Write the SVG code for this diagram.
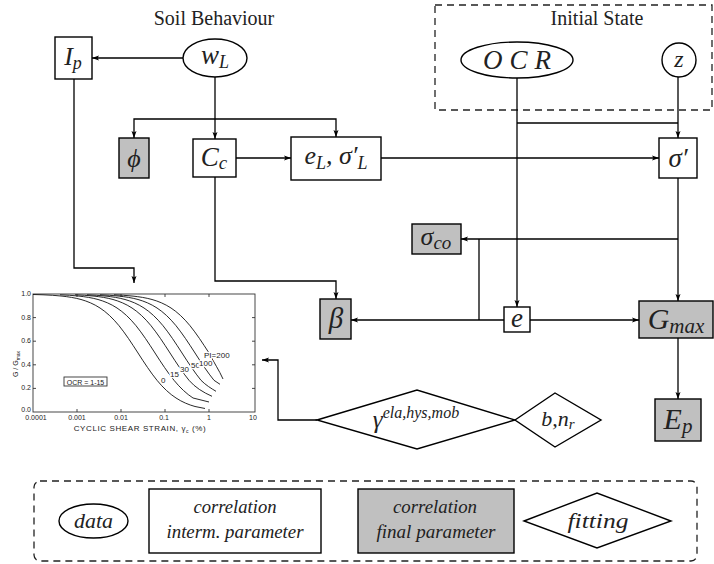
<svg xmlns="http://www.w3.org/2000/svg" width="714" height="564" viewBox="0 0 714 564">
<defs>
<style>
.box{fill:#fff;stroke:#000;stroke-width:1.4}
.gbox{fill:#c0c0c0;stroke:#000;stroke-width:1.4}
.c{fill:none;stroke:#000;stroke-width:1.3}
.dash{fill:none;stroke:#222;stroke-width:1.3;stroke-dasharray:7,5}
.m{font-style:italic;fill:#222;text-anchor:middle}
.t{font-size:20px;fill:#222;text-anchor:middle}
.sm{font-size:7px;fill:#222}
.lab{font-size:8px;fill:#222;stroke:#fff;stroke-width:2.5;paint-order:stroke}
.cur{fill:none;stroke:#111;stroke-width:0.9}
.fr{fill:none;stroke:#333;stroke-width:0.9}
</style>
<marker id="ah" markerWidth="8" markerHeight="6" refX="7" refY="3" orient="auto" markerUnits="userSpaceOnUse"><path d="M0,0.5 L7,3 L0,5.5 L1.5,3 z" fill="#000"/></marker>
</defs>

<g font-family="Liberation Serif, Times New Roman, serif">
<text class="t" x="214" y="25">Soil Behaviour</text>

<g id="initial-state">
<rect class="dash" x="435" y="5" width="277" height="105"/>
<text class="t" x="597" y="25">Initial State</text>
</g>

<g id="connectors">
<path class="c" d="M183,58 H92" marker-end="url(#ah)"/>
<path class="c" d="M215,77 V139" marker-end="url(#ah)"/>
<path class="c" d="M215,119 H134 V138" marker-end="url(#ah)"/>
<path class="c" d="M215,119 H336 V137" marker-end="url(#ah)"/>
<path class="c" d="M236,158 H291" marker-end="url(#ah)"/>
<path class="c" d="M381,158 H659" marker-end="url(#ah)"/>
<path class="c" d="M517,78 V307" marker-end="url(#ah)"/>
<path class="c" d="M517,123 H678"/>
<path class="c" d="M678,77 V138" marker-end="url(#ah)"/>
<path class="c" d="M678,178 V301" marker-end="url(#ah)"/>
<path class="c" d="M678,239 H461" marker-end="url(#ah)"/>
<path class="c" d="M479,239 V320"/>
<path class="c" d="M504,320 H351" marker-end="url(#ah)"/>
<path class="c" d="M530,320 H639" marker-end="url(#ah)"/>
<path class="c" d="M678,338 V399" marker-end="url(#ah)"/>
<path class="c" d="M215,177 V281 H336 V299" marker-end="url(#ah)"/>
<path class="c" d="M74,79 V268 H134 V283" marker-end="url(#ah)"/>
<path class="c" d="M317,420 H278 V360 H262" marker-end="url(#ah)"/>
</g>

<g id="Ip">
<rect class="box" x="55" y="37" width="37" height="42"/>
<text class="m" x="73" y="65" font-size="26">I<tspan font-size="18" dy="4">p</tspan></text>
</g>

<g id="wL">
<ellipse class="box" cx="215" cy="58" rx="32" ry="19"/>
<text class="m" x="215" y="64" font-size="27">w<tspan font-size="18" dy="4">L</tspan></text>
</g>

<g id="phi">
<rect class="gbox" x="119" y="138" width="30" height="40"/>
<text class="m" x="134" y="167" font-size="26">ϕ</text>
</g>

<g id="Cc">
<rect class="box" x="193" y="139" width="43" height="38"/>
<text class="m" x="214" y="166" font-size="27">C<tspan font-size="19" dy="3">c</tspan></text>
</g>

<g id="eL">
<rect class="box" x="291" y="137" width="90" height="43"/>
<text class="m" x="336" y="164" font-size="26">e<tspan font-size="18" dy="5">L</tspan><tspan dy="-5">, σ′</tspan><tspan font-size="18" dy="5">L</tspan></text>
</g>

<g id="OCR">
<ellipse class="box" cx="517" cy="60" rx="56" ry="18"/>
<text class="m" x="517" y="69" font-size="27" textLength="68" lengthAdjust="spacing">OCR</text>
</g>

<g id="z">
<circle class="box" cx="679" cy="60" r="17"/>
<text class="m" x="679" y="67" font-size="24">z</text>
</g>

<g id="sigma-prime">
<rect class="box" x="659" y="138" width="38" height="40"/>
<text class="m" x="678" y="167" font-size="27">σ′</text>
</g>

<g id="sigma-co">
<rect class="gbox" x="412" y="224" width="49" height="30"/>
<text class="m" x="436" y="245" font-size="26">σ<tspan font-size="19" dy="4">co</tspan></text>
</g>

<g id="beta">
<rect class="gbox" x="320" y="299" width="31" height="40"/>
<text class="m" x="336" y="328" font-size="29">β</text>
</g>

<g id="e">
<rect class="box" x="504" y="307" width="26" height="25"/>
<text class="m" x="517" y="327" font-size="27">e</text>
</g>

<g id="Gmax">
<rect class="gbox" x="639" y="301" width="74" height="37"/>
<text class="m" x="676" y="329" font-size="30">G<tspan font-size="21" dy="4">max</tspan></text>
</g>

<g id="Ep">
<rect class="gbox" x="655" y="399" width="46" height="42"/>
<text class="m" x="678" y="429" font-size="30">E<tspan font-size="21" dy="4">p</tspan></text>
</g>

<g id="gamma">
<polygon class="box" points="317,420 417,390 515,420 417,449"/>
<text class="m" x="416" y="428" font-size="25">γ<tspan font-size="16" dy="-10">ela,hys,mob</tspan></text>
</g>

<g id="bnr">
<polygon class="box" points="515,420 555,393 601,420 555,447"/>
<text class="m" x="558" y="426" font-size="22">b,n<tspan font-size="15" dy="3">r</tspan></text>
</g>

<g id="legend">
<rect class="dash" x="34" y="481" width="663" height="80" rx="6"/>
<g id="legend-data">
<ellipse class="box" cx="93.5" cy="521" rx="34.5" ry="17"/>
<text class="m" x="93.5" y="528" font-size="21" textLength="39" lengthAdjust="spacingAndGlyphs">data</text>
</g>
<g id="legend-interm">
<rect class="box" x="149" y="489" width="172" height="64"/>
<text class="m" x="235" y="513" font-size="18" textLength="83" lengthAdjust="spacingAndGlyphs">correlation</text>
<text class="m" x="235" y="538" font-size="18" textLength="137" lengthAdjust="spacingAndGlyphs">interm. parameter</text>
</g>
<g id="legend-final">
<rect class="gbox" x="358" y="489" width="156" height="64"/>
<text class="m" x="435" y="513" font-size="18" textLength="84" lengthAdjust="spacingAndGlyphs">correlation</text>
<text class="m" x="436" y="538" font-size="18" textLength="119" lengthAdjust="spacingAndGlyphs">final parameter</text>
</g>
<g id="legend-fitting">
<polygon class="box" points="524,521 597,493 671,521 597,548"/>
<text class="m" x="598" y="528" font-size="21" textLength="61" lengthAdjust="spacingAndGlyphs">fitting</text>
</g>
</g>
</g>

<g id="chart" font-family="Liberation Sans, Arial, sans-serif">
<rect class="fr" x="33" y="294" width="222" height="118"/>
<path class="fr" d="M33,317.6 h3 M33,341.2 h3 M33,364.8 h3 M33,388.4 h3 M255,317.6 h-3 M255,341.2 h-3 M255,364.8 h-3 M255,388.4 h-3 M77,412 v-3 M121,412 v-3 M165,412 v-3 M209,412 v-3 M77,294 v3 M121,294 v3 M165,294 v3 M209,294 v3"/>
<g class="sm" text-anchor="end">
<text x="31" y="296">1.0</text>
<text x="31" y="320">0.8</text>
<text x="31" y="343">0.6</text>
<text x="31" y="367">0.4</text>
<text x="31" y="390">0.2</text>
<text x="31" y="412">0.0</text>
</g>
<g class="sm" text-anchor="middle">
<text x="36" y="420">0.0001</text>
<text x="77" y="420">0.001</text>
<text x="121" y="420">0.01</text>
<text x="164" y="420">0.1</text>
<text x="209" y="420">1</text>
<text x="253" y="420">10</text>
<text x="140" y="431" font-size="8" letter-spacing="0.6">CYCLIC SHEAR STRAIN, γ<tspan font-size="5" dy="1.5">c</tspan><tspan dy="-1.5"> (%)</tspan></text>
</g>
<text class="sm" transform="translate(18,364) rotate(-90)" text-anchor="middle" font-size="8">G / G<tspan font-size="5" dy="1.5">max</tspan></text>
<rect class="fr" x="64" y="377" width="43" height="9"/>
<text class="sm" x="85.5" y="384.5" text-anchor="middle" font-size="8">OCR = 1-15</text>
<path class="cur" d="M33,294.5 L43,294.8 c6.33,0.26 12.67,0.6 19,1.3 c6.33,0.7 12.67,1.64 19,3.4 c6.33,1.76 12.67,4.38 19,8.5 c6.33,4.12 12.67,9.97 19,17.7 c6.33,7.73 12.67,17.47 19,27.3 c6.33,9.83 12.67,19.57 19,27.3 c6.33,7.73 12.67,13.58 19,17.7 c6.33,4.12 12.67,6.74 19,8.5 l10,2"/>
<path class="cur" d="M60,294.8 c6.33,0.26 12.67,0.6 19,1.3 c6.33,0.7 12.67,1.64 19,3.4 c6.33,1.76 12.67,4.38 19,8.5 c6.33,4.12 12.67,9.97 19,17.7 c6.33,7.73 12.67,17.47 19,27.3 c6.33,9.83 12.67,19.57 19,27.3 c6.33,7.73 12.67,13.58 19,17.7 l16,4"/>
<path class="cur" d="M75,294.8 c6.33,0.26 12.67,0.6 19,1.3 c6.33,0.7 12.67,1.64 19,3.4 c6.33,1.76 12.67,4.38 19,8.5 c6.33,4.12 12.67,9.97 19,17.7 c6.33,7.73 12.67,17.47 19,27.3 c6.33,9.83 12.67,19.57 19,27.3 c6,7 14,12 23,16"/>
<path class="cur" d="M87,294.8 c6.33,0.26 12.67,0.6 19,1.3 c6.33,0.7 12.67,1.64 19,3.4 c6.33,1.76 12.67,4.38 19,8.5 c6.33,4.12 12.67,9.97 19,17.7 c6.33,7.73 12.67,17.47 19,27.3 c6.33,9.83 12.67,19.57 19,27.3 c5,5 10,8 15,11"/>
<path class="cur" d="M100,294.8 c6.33,0.26 12.67,0.6 19,1.3 c6.33,0.7 12.67,1.64 19,3.4 c6.33,1.76 12.67,4.38 19,8.5 c6.33,4.12 12.67,9.97 19,17.7 c6.33,7.73 12.67,17.47 19,27.3 c6.33,9.83 12.67,19.57 19,27.3 l6,4"/>
<path class="cur" d="M114,294.8 c6.33,0.26 12.67,0.6 19,1.3 c6.33,0.7 12.67,1.64 19,3.4 c6.33,1.76 12.67,4.38 19,8.5 c6.33,4.12 12.67,9.97 19,17.7 c6.33,7.73 12.67,17.47 19,27.3 c5,9.8 10,17 14,26"/>
<text class="lab" x="161" y="383">0</text>
<text class="lab" x="170" y="377">15</text>
<text class="lab" x="180" y="372">30</text>
<text class="lab" x="191" y="368">50</text>
<text class="lab" x="199" y="366">100</text>
<text class="lab" x="204" y="358">PI=200</text>
</g>
</svg>
